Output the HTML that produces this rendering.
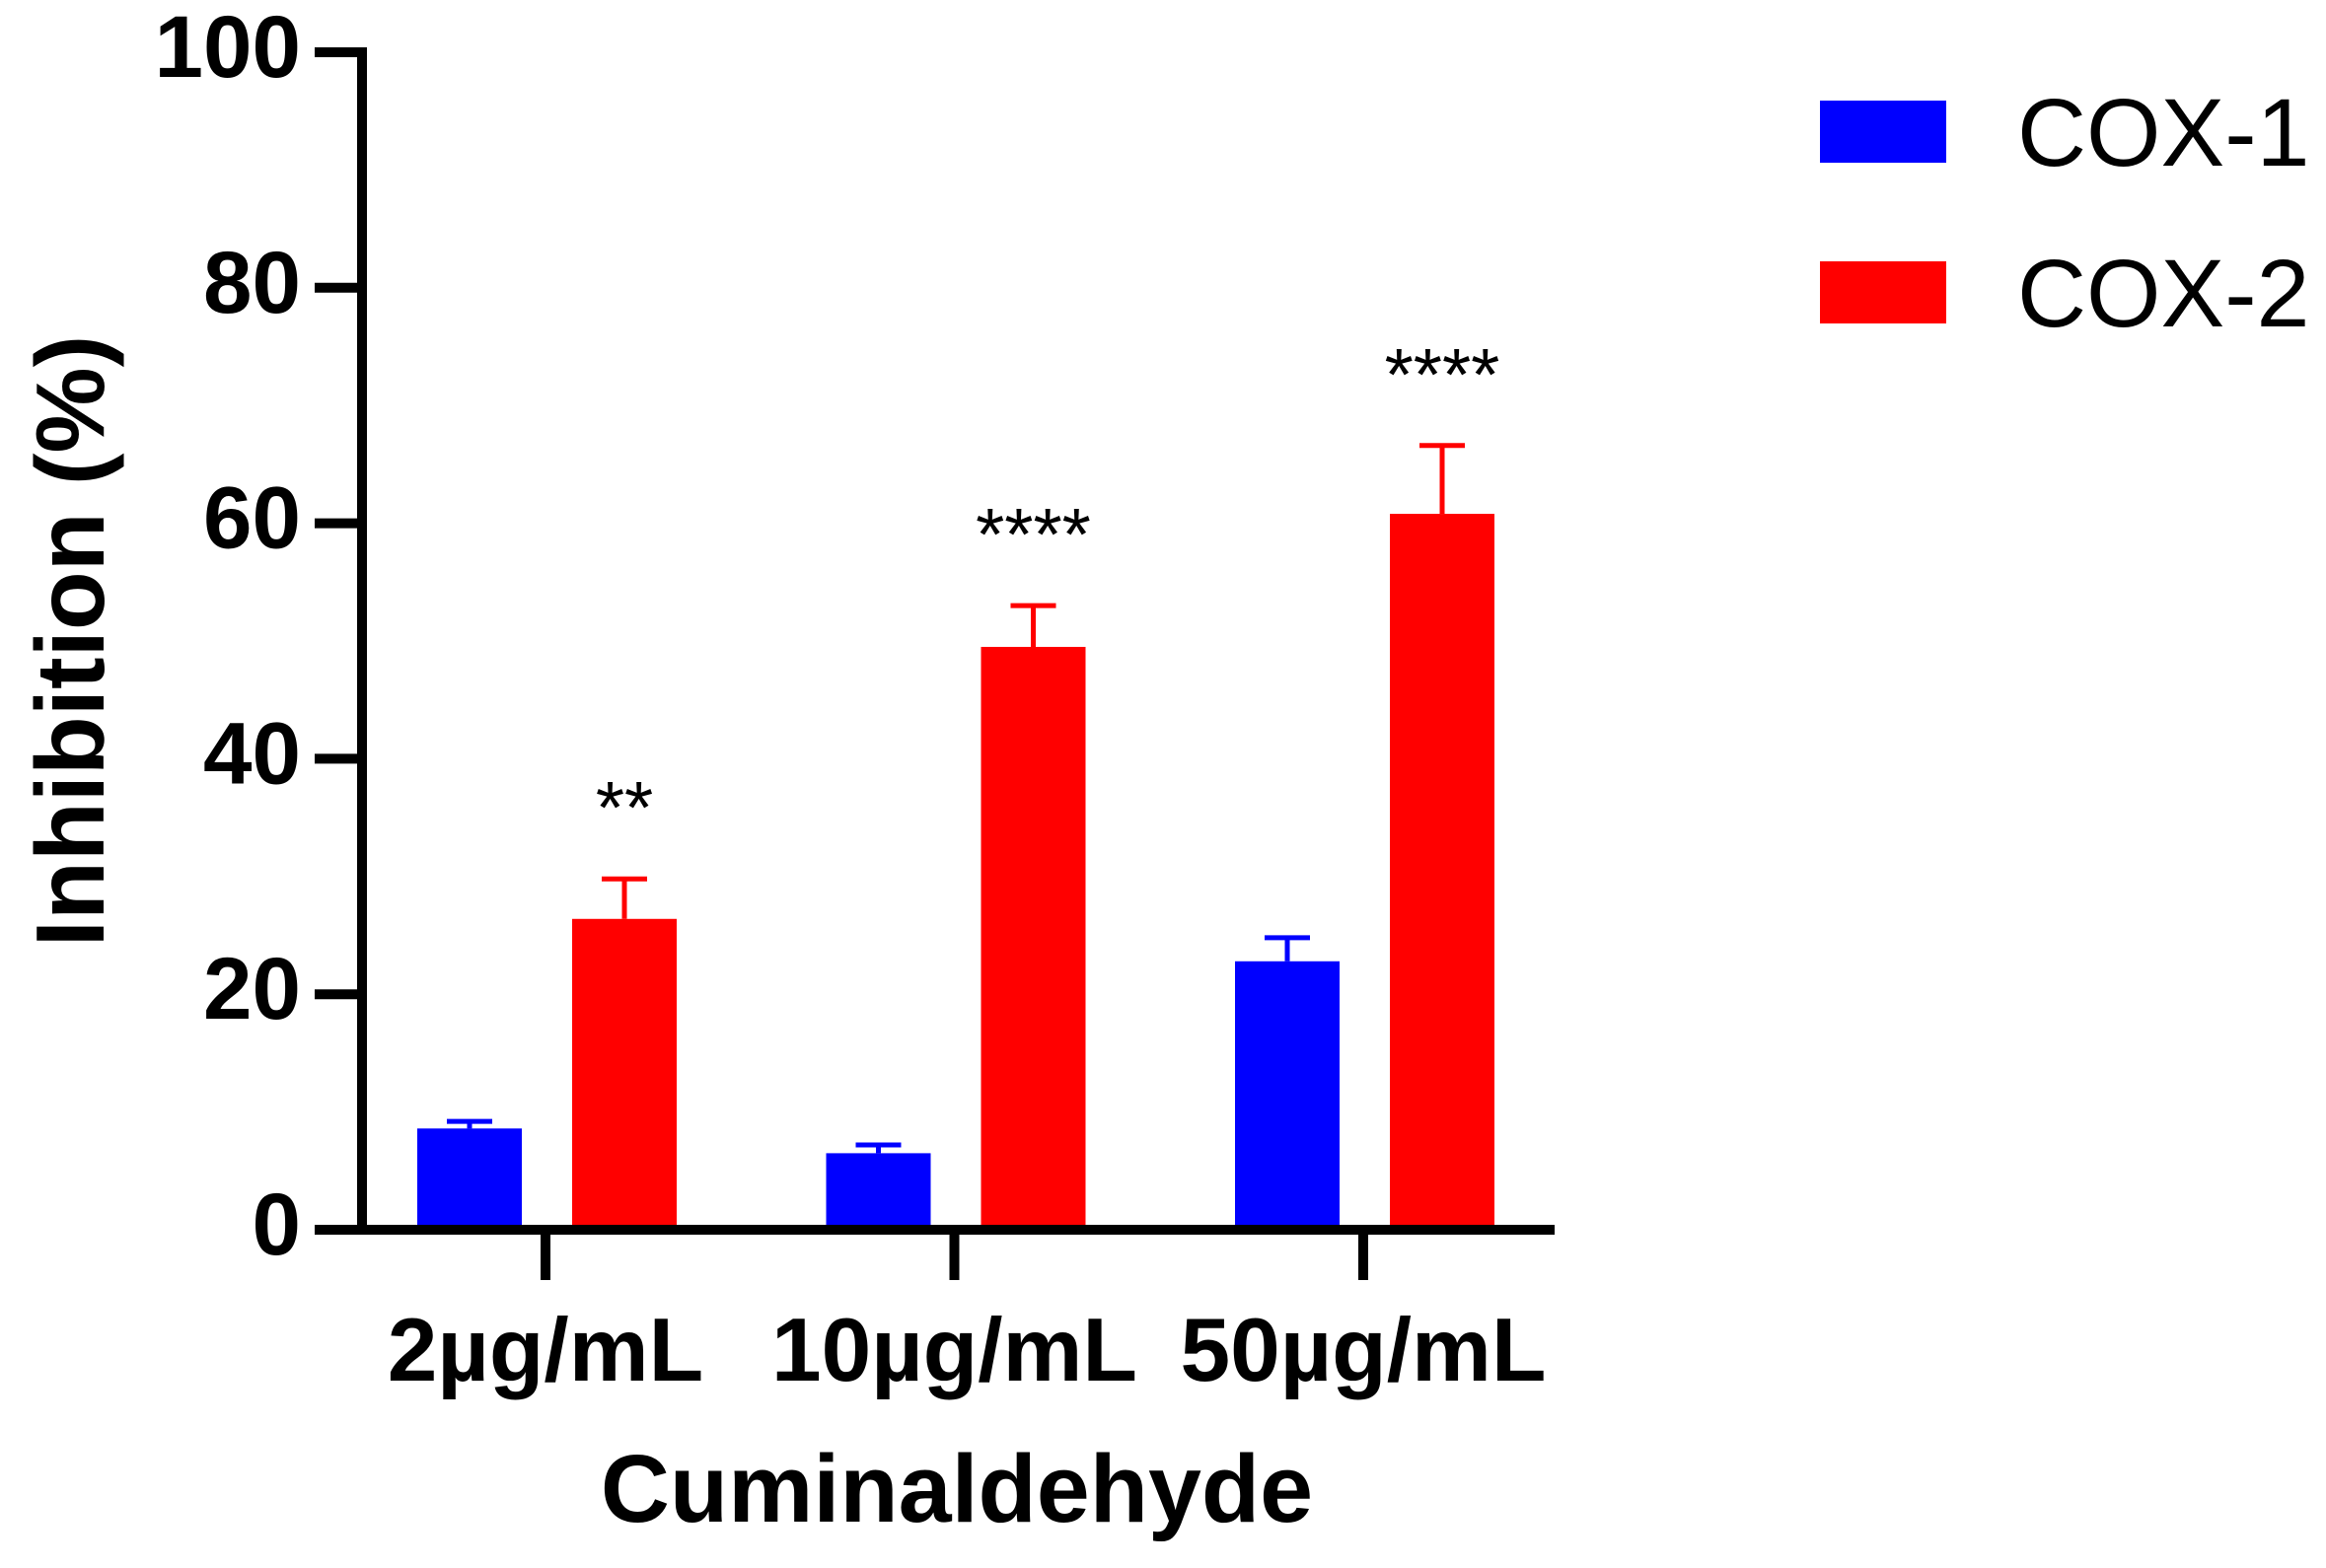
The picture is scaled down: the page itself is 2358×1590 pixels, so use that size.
<!DOCTYPE html>
<html><head><meta charset="utf-8"><style>
html,body{margin:0;padding:0;background:#fff}
svg{display:block}
</style></head><body>
<svg id="chart" width="2358" height="1590" viewBox="0 0 2358 1590" xmlns="http://www.w3.org/2000/svg" font-family="Liberation Sans, sans-serif">
<g id="plot"></g>
</svg>
<script>
const categories = ["2µg/mL","10µg/mL","50µg/mL"];
const cox1Values = [8.6, 6.5, 22.8];
const cox1Err = [0.6, 0.7, 2.0];
const cox2Values = [26.4, 49.5, 60.8];
const cox2Err = [3.4, 3.5, 5.8];
const stars = ["**","****","****"];
const yTicks = [0,20,40,60,80,100];

const NS="http://www.w3.org/2000/svg";
const g=document.getElementById('plot');
const y0=1247, y100=53, axX=367;
const yS=v=>y0-(v/100)*(y0-y100);
const cx=i=>553+i*414.5;
const bw=106;
function mk(t,a,txt){const e=document.createElementNS(NS,t);for(const k in a)e.setAttribute(k,a[k]);if(txt!==undefined)e.textContent=txt;g.appendChild(e);return e;}

yTicks.forEach(v=>{
  const t=mk('line',{x1:319,x2:axX,y1:yS(v),y2:yS(v),stroke:'#000','stroke-width':10});
  
  
  const l=mk('text',{x:305,y:yS(v)+25,'text-anchor':'end','font-size':89,'font-weight':'bold'},String(v));
  
  
});

function bar(i,val,err,color,off,name){
  const x=cx(i)+off;
  const b=mk('rect',{x:x-bw/2,y:yS(val),width:bw,height:y0-yS(val),fill:color});
  
  
  const e=mk('path',{d:`M${x} ${yS(val)} V${yS(val+err)} M${x-23} ${yS(val+err)} H${x+23}`,stroke:color,'stroke-width':5,fill:'none'});
  
  
}
categories.forEach((c,i)=>{
  bar(i,cox1Values[i],cox1Err[i],'#0000ff',-77,'bar-cox1');
  bar(i,cox2Values[i],cox2Err[i],'#ff0000',80,'bar-cox2');
  const s=mk('text',{x:cx(i)+80,y:yS(cox2Values[i]+cox2Err[i])-46,'text-anchor':'middle','font-size':75},stars[i]);
  
  
  const t=mk('line',{x1:cx(i),x2:cx(i),y1:y0,y2:1298,stroke:'#000','stroke-width':10});
  
  
  const l=mk('text',{x:cx(i),y:1400,'text-anchor':'middle','font-size':91,'font-weight':'bold'},c);
  
  
});

const ya=mk('line',{x1:axX,x2:axX,y1:48,y2:y0+5,stroke:'#000','stroke-width':10});


const xa=mk('line',{x1:319,x2:1576,y1:y0,y2:y0,stroke:'#000','stroke-width':10});



const xt=mk('text',{x:970,y:1543,'text-anchor':'middle','font-size':97,'font-weight':'bold'},'Cuminaldehyde');


const yt=mk('text',{x:0,y:0,'text-anchor':'middle','font-size':98,'font-weight':'bold',transform:'translate(105,650) rotate(-90)'},'Inhibition (%)');



const leg=[['COX-1','#0000ff',102],['COX-2','#ff0000',265]];
leg.forEach(([n,c,y])=>{
  const r=mk('rect',{x:1845,y:y,width:128,height:63,fill:c});
  
  
  const t=mk('text',{x:2045,y:y+66,'font-size':97},n);
  
  
});
</script>
</body></html>
